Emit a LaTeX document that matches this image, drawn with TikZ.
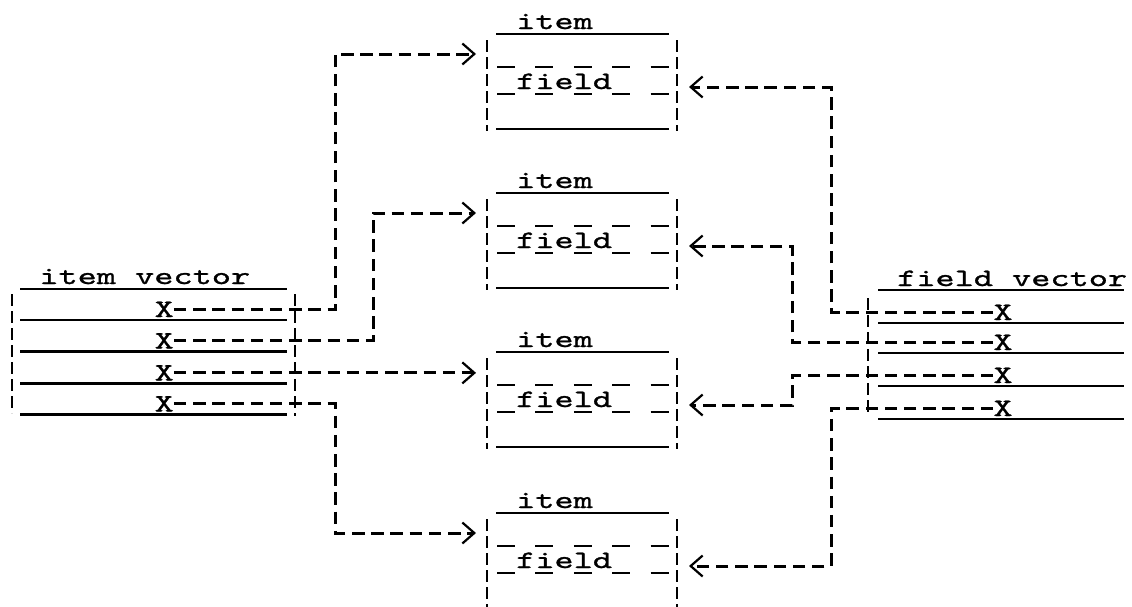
\documentclass[tikz,border=0pt]{standalone}
\usepackage{fontspec}
\newfontfamily\tw[FakeStretch=1.46,FakeBold=1.1]{lmmono10-regular.otf}
\usetikzlibrary{arrows.meta}
\begin{document}
\begin{tikzpicture}[x=1pt,y=-1pt,
  txt/.style={font=\tw\fontsize{25}{26}\selectfont, inner sep=0pt, anchor=base west},
  ul/.style={line width=2.3pt},
  vbar/.style={line width=1.9pt, dash pattern=on 12pt off 5pt},
  conn/.style={line width=3pt, dash pattern=on 12.5pt off 6.7pt},
  arr/.style={conn, -{Straight Barb[length=12pt,width=21pt,line width=2.2pt]}}]
\fill[white] (0,0) rectangle (1132,606);
\clip (0,0) rectangle (1132,606);

% item boxes
\foreach \i/\H in {1/34, 2/193, 3/352, 4/513} {
  \node[txt] (bt\i) at (516,\H-5) {item};
  \draw[ul] (496,\H) -- (669,\H);
  \draw[vbar] (487,\H+6) -- (487,\H+97);
  \draw[vbar] (677,\H+6) -- (677,\H+97);
  \foreach \k in {0,...,4} {
    \draw[ul] (497+38.4*\k,\H+33) -- ++(18,0);
    \draw[ul] (497+38.4*\k,\H+60) -- ++(18,0);
  }
  \node[txt] (bf\i) at (516,\H+55) {field};
  \draw[ul] (496,\H+95) -- (669,\H+95);
  \coordinate (bin\i) at (476,\H+20);
  \coordinate (bout\i) at (689,\H+53);
}

% item vector
\draw[vbar] (12,294) -- (12,413);
\draw[ul] (20,289) -- (287,289);
\node[txt] (iv) at (39.2,284) {item vector};
\foreach \i/\L in {1/320,2/351.5,3/383.5,4/414.5} {
  \draw[ul] (20,\L) -- (287,\L);
  \node[txt] (ix\i) at (154.4,\L-3) {X};
}
\draw[vbar] (295,294) -- (295,416);

% field vector
\draw[ul] (878,290) -- (1124,290);
\node[txt] (fv) at (897,286) {field vector};
\foreach \i/\L in {1/323,2/353,3/386,4/419} {
  \draw[ul] (878,\L) -- (1124,\L);
  \node[txt] (fx\i) at (993.2,\L-3) {X};
}
\draw[vbar] (868,298) -- (868,412);

% corners
\coordinate (lc1) at (335,54);
\coordinate (lc2) at (373,213);
\coordinate (lc4) at (335,533);
\coordinate (rc1) at (831,87);
\coordinate (rc2) at (792,246);
\coordinate (rc3) at (792,405);
\coordinate (rc4) at (831,566);

% connectors
\draw[arr] (ix1.east) -| (lc1) -- (bin1);
\draw[arr] (ix2.east) -| (lc2) -- (bin2);
\draw[arr] (ix3.east) -- (ix3.east -| bin3);
\draw[arr] (ix4.east) -| (lc4) -- (bin4);
\draw[arr] (fx1.west) -| (rc1) -- (bout1);
\draw[arr] (fx2.west) -| (rc2) -- (bout2);
\draw[arr] (fx3.west) -| (rc3) -- (bout3);
\draw[arr] (fx4.west) -| (rc4) -- (bout4);
\end{tikzpicture}
\end{document}
